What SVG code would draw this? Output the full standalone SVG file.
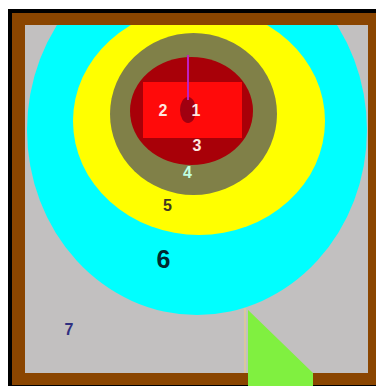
<svg xmlns="http://www.w3.org/2000/svg" width="376" height="386" viewBox="0 0 376 386">
<style>
.lbl{font-family:"Liberation Sans",Arial,sans-serif;font-weight:bold;text-anchor:middle}
</style>
<defs>
<clipPath id="inner"><rect x="25" y="25" width="343" height="348"/></clipPath>
</defs>
<rect x="0" y="0" width="376" height="386" fill="#ffffff"/>
<rect x="8" y="9" width="368" height="377" fill="#000000"/>
<g id="frame"><rect x="12" y="13" width="364" height="372" fill="#8a4500"/></g>
<g id="region7"><rect x="25" y="25" width="343" height="348" fill="#c2c0c0"/></g>
<g clip-path="url(#inner)">
<g id="region6"><ellipse cx="197" cy="130" rx="170" ry="185" fill="#00ffff"/></g>
<g id="region5"><ellipse cx="199" cy="121" rx="126" ry="114" fill="#ffff00"/></g>
<g id="region4"><ellipse cx="193.5" cy="114" rx="83.5" ry="81" fill="#808048"/></g>
<g id="region3"><ellipse cx="191.5" cy="111" rx="61.5" ry="54" fill="#a80008"/></g>
<g id="region2"><rect x="143" y="82" width="99" height="56" fill="#ff0a0a"/></g>
<g id="region1"><ellipse cx="188" cy="110" rx="8" ry="13" fill="#a00010"/></g>
</g>
<g id="connectors"><line x1="188" y1="55" x2="188" y2="100" stroke="#c020c0" stroke-width="2"/></g>
<g id="door">
<line x1="245" y1="308" x2="245" y2="373" stroke="#d8c8a0" stroke-width="2"/>
<polygon points="246,308 313,373 313,386 248,386 248,310" fill="#80f040"/>
</g>
<g id="labels">
<text class="lbl" x="163" y="116" font-size="16" fill="#ffe8e0">2</text>
<text class="lbl" x="196" y="116" font-size="16" fill="#ffe8e0">1</text>
<text class="lbl" x="197" y="151" font-size="16" fill="#ffe8e0">3</text>
<text class="lbl" x="187.5" y="178" font-size="16" fill="#c0ffe0">4</text>
<text class="lbl" x="167.5" y="211" font-size="16" fill="#403820">5</text>
<text class="lbl" x="163.5" y="268" font-size="25" fill="#002830">6</text>
<text class="lbl" x="69" y="335" font-size="16" fill="#303080">7</text>
</g>
</svg>
